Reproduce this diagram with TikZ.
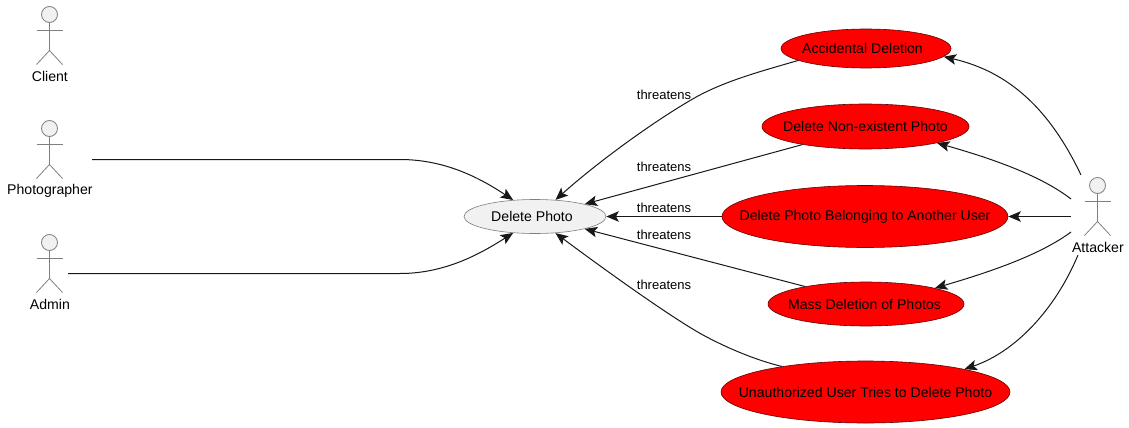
\documentclass[tikz,border=0pt]{standalone}
\usepackage{fontspec}
\setmainfont{Liberation Sans}
\usetikzlibrary{arrows.meta,shapes.geometric}
\definecolor{umlfill}{HTML}{F1F1F1}
\definecolor{umlline}{HTML}{7F7F7F}
\definecolor{edgeline}{HTML}{181818}
\tikzset{
  usecase/.style={ellipse,draw=umlline,fill=umlfill,inner sep=0pt,line width=.6pt,font=\fontsize{14.1}{16}\selectfont},
  threat/.style={usecase,draw=black!60!red,fill=red,text=black},
  conn/.style={draw=edgeline,line width=1pt,-{Stealth[inset=2.8pt,length=12.5pt,width=10.5pt]}},
  elabel/.style={font=\fontsize{13}{15}\selectfont,inner sep=0pt},
  actorlabel/.style={font=\fontsize{14.1}{16}\selectfont,inner sep=0pt},
  stick/.style={draw=umlline,line width=.8pt},
  headc/.style={circle,draw=umlline,fill=umlfill,line width=.8pt,minimum size=16pt,inner sep=0pt}
}
\newcommand{\umlactor}[4]{%
  \node[headc] (#1) at (#2,#3) {};
  \draw[stick] (#1.south) -- ++(0,28);
  \draw[stick] (#2-13,#3+16) -- (#2+13,#3+16);
  \draw[stick] (#2-13,#3+50) -- (#2,#3+36) -- (#2+13,#3+50);
  \node[actorlabel] (#1l) at (#2+0.4,#3+62) {#4};
}
\newcommand{\ctext}[1]{\makebox[0pt]{#1}}
\begin{document}
\begin{tikzpicture}[x=1pt,y=-1pt]
\useasboundingbox (0,0) rectangle (1129,428);
\umlactor{client}{49.5}{14.5}{Client}
\umlactor{photog}{49.5}{128.5}{Photographer}
\umlactor{admin}{49.5}{242.5}{Admin}
\umlactor{attacker}{1097.5}{185.5}{Attacker}
\coordinate (pout) at (92,159.5);
\coordinate (aout) at (68,273.5);
\coordinate (a1) at (1081,175);
\coordinate (a2) at (1071,199);
\coordinate (a3) at (1071,216.5);
\coordinate (a4) at (1071,232);
\coordinate (a5) at (1078,255);

\node[usecase,minimum width=142pt,minimum height=34pt] (del) at (535,216.5) {\hspace{-6pt}\ctext{Delete Photo}};
\node[threat,minimum width=170pt,minimum height=39pt] (acc) at (866,48.5) {\hspace{-7pt}\ctext{Accidental Deletion}};
\node[threat,minimum width=207pt,minimum height=45pt] (non) at (865.5,126.5) {\ctext{Delete Non-existent Photo}};
\node[threat,minimum width=286pt,minimum height=62pt] (oth) at (865,216.5) {\ctext{Delete Photo Belonging to Another User}};
\node[threat,minimum width=196pt,minimum height=44pt] (mas) at (866,304) {\hspace{-3pt}\ctext{Mass Deletion of Photos}};
\node[threat,minimum width=289pt,minimum height=62pt] (una) at (865.5,392) {\ctext{Unauthorized User Tries to Delete Photo}};

\node[elabel] (t1) at (664,95) {threatens};
\node[elabel] (t2) at (664,167) {threatens};
\node[elabel] (t3) at (664,208) {threatens};
\node[elabel] (t4) at (664,235) {threatens};
\node[elabel] (t5) at (664,285) {threatens};

\draw[conn] (pout) -- (400,159.5) .. controls (445,159.5) and (480,178) .. (del.143.6);
\draw[conn] (aout) -- (400,273.5) .. controls (445,273.5) and (480,254) .. (del.-143.6);

\draw[conn] (acc.190.6) .. controls (762,71) and (728,80) .. (698,96) .. controls (660,117) and (600,160) .. (del.39);
\draw[conn] (non.196) -- (del.14.6);
\draw[conn] (oth.180) -- (del.0);
\draw[conn] (mas.164.3) -- (del.-14.6);
\draw[conn] (una.163.7) .. controls (755,360) and (725,347) .. (703,335) .. controls (672,318) and (605,270) .. (del.-39);

\draw[conn] (a1) .. controls (1050,110) and (1010,72) .. (acc.-6.7);
\draw[conn] (a2) .. controls (1040,175) and (990,158) .. (non.-13.5);
\draw[conn] (a3) -- (oth.0);
\draw[conn] (a4) .. controls (1040,255) and (990,272) .. (mas.13);
\draw[conn] (a5) .. controls (1055,310) and (1015,352) .. (una.13.5);
\end{tikzpicture}
\end{document}
